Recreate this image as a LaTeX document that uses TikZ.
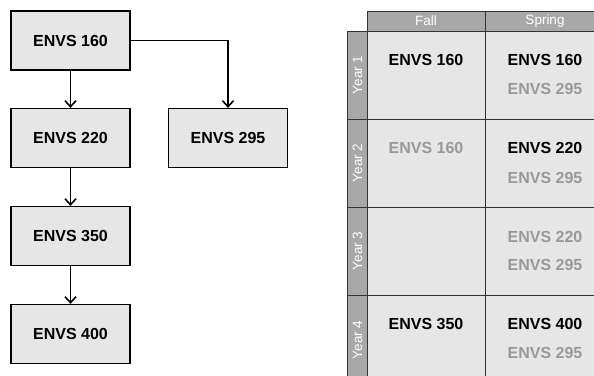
\documentclass[tikz,border=0pt]{standalone}
\usepackage{fontspec}
\setmainfont{Liberation Sans}
\usetikzlibrary{arrows.meta}
\definecolor{boxfill}{HTML}{E6E6E6}
\definecolor{hdrfill}{HTML}{A8A8A8}
\definecolor{softtext}{HTML}{999999}
\definecolor{gridline}{HTML}{333333}
\begin{document}
\begin{tikzpicture}[x=1pt,y=-1pt,
  course/.style={draw=black,fill=boxfill,line width=1.2pt,minimum width=119pt,minimum height=59pt,
    font=\fontsize{16}{17}\selectfont\bfseries,inner sep=0pt},
  flow/.style={line width=1.6pt,-{Straight Barb[length=6pt,width=11pt,line width=1.6pt]}},
  cell/.style={draw=gridline,fill=boxfill,line width=1pt},
  hdr/.style={draw=gridline,fill=hdrfill,line width=1pt},
  hdrtext/.style={text=white,font=\fontsize{13.5}{14}\selectfont,inner sep=0pt},
  ctext/.style={font=\fontsize{16}{17}\selectfont\bfseries,inner sep=0pt,text height=11.5pt,text depth=0pt},
  strong/.style={ctext,text=black},
  soft/.style={ctext,text=softtext}]
\useasboundingbox (0,0) rectangle (594,375);

% flowchart
\node[course] (c160) at (70.5,40.5) {ENVS 160};
\node[course] (c220) at (70.5,138) {ENVS 220};
\node[course] (c295) at (228,138) {ENVS 295};
\node[course] (c350) at (70.5,236) {ENVS 350};
\node[course] (c400) at (70.5,334) {ENVS 400};
\coordinate (bend) at (c295.north |- c160.east);
\draw[flow] (c160) -- (c220);
\draw[flow] (c160.east) -- (bend) -- (c295.north);
\draw[flow] (c220) -- (c350);
\draw[flow] (c350) -- (c400);

% table
\begin{scope}
\clip (0,0) rectangle (594,375);
\path[hdr] (367,11) rectangle (485,31);
\path[hdr] (485,11) rectangle (605,31);
\path[hdr] (347.5,31) rectangle (367,119);
\path[hdr] (347.5,119) rectangle (367,207);
\path[hdr] (347.5,207) rectangle (367,295);
\path[hdr] (347.5,295) rectangle (367,385);
\foreach \ya/\yb in {31/119,119/207,207/295,295/385}{
  \path[cell] (367,\ya) rectangle (485,\yb);
  \path[cell] (485,\ya) rectangle (605,\yb);
}
\node[hdrtext] (hfall) at (426,21) {Fall};
\node[hdrtext] (hspring) at (545,21) {Spring};
\node[hdrtext,rotate=90] (y1) at (357.5,75) {Year 1};
\node[hdrtext,rotate=90] (y2) at (357.5,163) {Year 2};
\node[hdrtext,rotate=90] (y3) at (357.5,251) {Year 3};
\node[hdrtext,rotate=90] (y4) at (357.5,340) {Year 4};

\node[strong] (f1) at (426,60) {ENVS 160};
\node[strong] (s1a) at (545,60) {ENVS 160};
\node[soft] (s1b) at (545,89) {ENVS 295};
\node[soft] (f2) at (426,148) {ENVS 160};
\node[strong] (s2a) at (545,148) {ENVS 220};
\node[soft] (s2b) at (545,178) {ENVS 295};
\node[soft] (s3a) at (545,237) {ENVS 220};
\node[soft] (s3b) at (545,265) {ENVS 295};
\node[strong] (f4) at (426,324) {ENVS 350};
\node[strong] (s4a) at (545,324) {ENVS 400};
\node[soft] (s4b) at (545,353) {ENVS 295};
\end{scope}
\end{tikzpicture}
\end{document}
